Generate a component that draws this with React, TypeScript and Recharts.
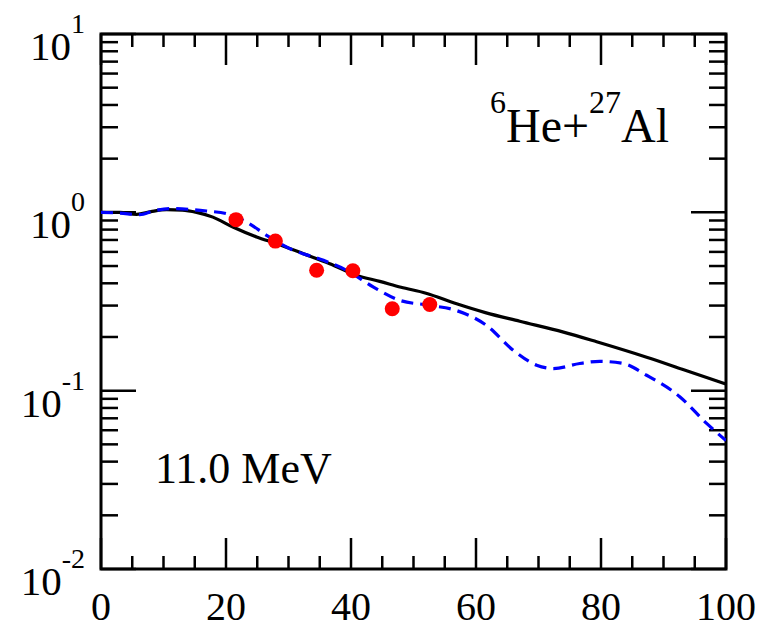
import React from 'react';
import {
    ComposedChart,
    Line,
    Scatter,
    XAxis,
    YAxis,
    ReferenceLine,
    ReferenceArea,
} from 'recharts';

const FONT = '"Liberation Serif", "Times New Roman", serif';

// angle (deg) -> ratio to Rutherford
const solidCurve: [number, number][] = [
    [0, 1.0], [3, 1.0], [5.7, 0.975], [8, 1.01], [10.5, 1.035], [13, 1.03],
    [15.3, 1.0], [17.9, 0.94], [21.1, 0.827], [24.9, 0.727], [28.1, 0.667],
    [32.4, 0.586], [36.6, 0.515], [40.9, 0.443], [44.6, 0.41], [48, 0.38],
    [52, 0.352], [56.9, 0.307], [61.5, 0.274], [67, 0.245], [74, 0.213],
    [79.3, 0.188], [87.3, 0.154], [93, 0.132], [100, 0.109],
];

const dashedCurve: [number, number][] = [
    [0, 1.0], [3, 0.99], [6.2, 0.97], [8.5, 1.02], [11, 1.05], [14, 1.04],
    [16.9, 1.017], [20.1, 0.983], [23.3, 0.882], [26.5, 0.743], [30.2, 0.626],
    [35.6, 0.538], [39.3, 0.473], [43.6, 0.381], [47.8, 0.321], [52.6, 0.301],
    [56.5, 0.284], [61.7, 0.232], [66, 0.168], [69.7, 0.139], [72.4, 0.133],
    [76.6, 0.142], [79.8, 0.146], [83.6, 0.142], [87.3, 0.122], [92.6, 0.0925],
    [96.9, 0.0655], [100, 0.0525],
];

const measured: [number, number][] = [
    [21.6, 0.91], [27.9, 0.69], [34.5, 0.473], [40.3, 0.47], [46.6, 0.288], [52.6, 0.304],
];

const xLabelTicks = [0, 20, 40, 60, 80, 100];
const xMinorTicks = [5, 10, 15, 25, 30, 35, 45, 50, 55, 65, 70, 75, 85, 90, 95];
const yLabelTicks = [0.01, 0.1, 1, 10];
const yMinorTicks = [0.01, 0.1, 1].flatMap((d) => [2, 3, 4, 5, 6, 7, 8, 9].map((m) => +(d * m).toPrecision(3)));

const toPts = (arr: [number, number][]) => arr.map(([x, y]) => ({ x, y }));

const W = 763;
const H = 629;
const PX_PER_X = 6.25;      // 625 px for 0..100
const PX_PER_DECADE = 178.3;

const XTick = (props: any) => {
    const { x, payload } = props;
    return (
        <text x={x} y={620} textAnchor="middle" fontFamily={FONT} fontSize={40} fill="#000">
            {payload.value}
        </text>
    );
};

const YTick = (props: any) => {
    const { y, payload } = props;
    const exp = Math.round(Math.log10(payload.value));
    return (
        <text x={85} y={y + 26} textAnchor="end" fontFamily={FONT} fontSize={41} fill="#000">
            10<tspan dy={-27} fontSize={28}>{exp}</tspan>
        </text>
    );
};

const tickStyle = { stroke: '#000', strokeWidth: 2.5 };

function yTickSegs(v: number, len: number, key: string) {
    const dx = len / PX_PER_X;
    return [
        <ReferenceLine key={key + 'l'} segment={[{ x: 0, y: v }, { x: dx, y: v }]} {...tickStyle} />,
        <ReferenceLine key={key + 'r'} segment={[{ x: 100 - dx, y: v }, { x: 100, y: v }]} {...tickStyle} />,
    ];
}

function xTickSegs(v: number, len: number, key: string) {
    const f = Math.pow(10, len / PX_PER_DECADE);
    return [
        <ReferenceLine key={key + 'b'} segment={[{ x: v, y: 0.01 }, { x: v, y: 0.01 * f }]} {...tickStyle} />,
        <ReferenceLine key={key + 't'} segment={[{ x: v, y: 10 / f }, { x: v, y: 10 }]} {...tickStyle} />,
    ];
}

export default function App() {
    return (
        <div style={{ position: 'absolute', left: 0, top: 0, width: W, height: H, background: '#fff' }}>
            <ComposedChart width={W} height={H} margin={{ top: 34, right: 37, bottom: 0, left: 0 }}>
                <XAxis
                    dataKey="x"
                    type="number"
                    domain={[0, 100]}
                    ticks={xLabelTicks}
                    tick={<XTick />}
                    tickLine={false}
                    axisLine={false}
                    height={60}
                    allowDataOverflow
                />
                <YAxis
                    dataKey="y"
                    type="number"
                    scale="log"
                    domain={[0.01, 10]}
                    ticks={yLabelTicks}
                    tick={<YTick />}
                    tickLine={false}
                    axisLine={false}
                    width={101}
                    allowDataOverflow
                />

                {yMinorTicks.map((v, i) => yTickSegs(v, 17, 'ym' + i))}
                {yLabelTicks.map((v, i) => yTickSegs(v, 35, 'yM' + i))}
                {xMinorTicks.map((v, i) => xTickSegs(v, 13, 'xm' + i))}
                {xLabelTicks.map((v, i) => xTickSegs(v, 31, 'xM' + i))}

                <ReferenceArea x1={0} x2={100} y1={0.01} y2={10} fill="none" fillOpacity={0} stroke="#000" strokeWidth={3} />

                <Line
                    data={toPts(solidCurve)}
                    dataKey="y"
                    type="monotone"
                    stroke="#000"
                    strokeWidth={3.2}
                    dot={false}
                    isAnimationActive={false}
                />
                <Line
                    data={toPts(dashedCurve)}
                    dataKey="y"
                    type="monotone"
                    stroke="#0000ff"
                    strokeWidth={3.2}
                    strokeDasharray="12 7"
                    dot={false}
                    isAnimationActive={false}
                />
                <Scatter
                    data={toPts(measured)}
                    dataKey="y"
                    fill="#ff0000"
                    shape={(p: any) => <circle cx={p.cx} cy={p.cy} r={7.5} fill="#ff0000" />}
                    isAnimationActive={false}
                />
            </ComposedChart>

            <svg width={W} height={H} style={{ position: 'absolute', left: 0, top: 0, pointerEvents: 'none' }}>
                <text x={490} y={142} fontFamily={FONT} fontSize={48} fill="#000">
                    <tspan fontSize={32} dy={-29}>6</tspan>
                    <tspan dy={29}>He+</tspan>
                    <tspan fontSize={32} dy={-29}>27</tspan>
                    <tspan dy={29}>Al</tspan>
                </text>
                <text x={155} y={483} fontFamily={FONT} fontSize={44} fill="#000">
                    11.0 MeV
                </text>
            </svg>
        </div>
    );
}
